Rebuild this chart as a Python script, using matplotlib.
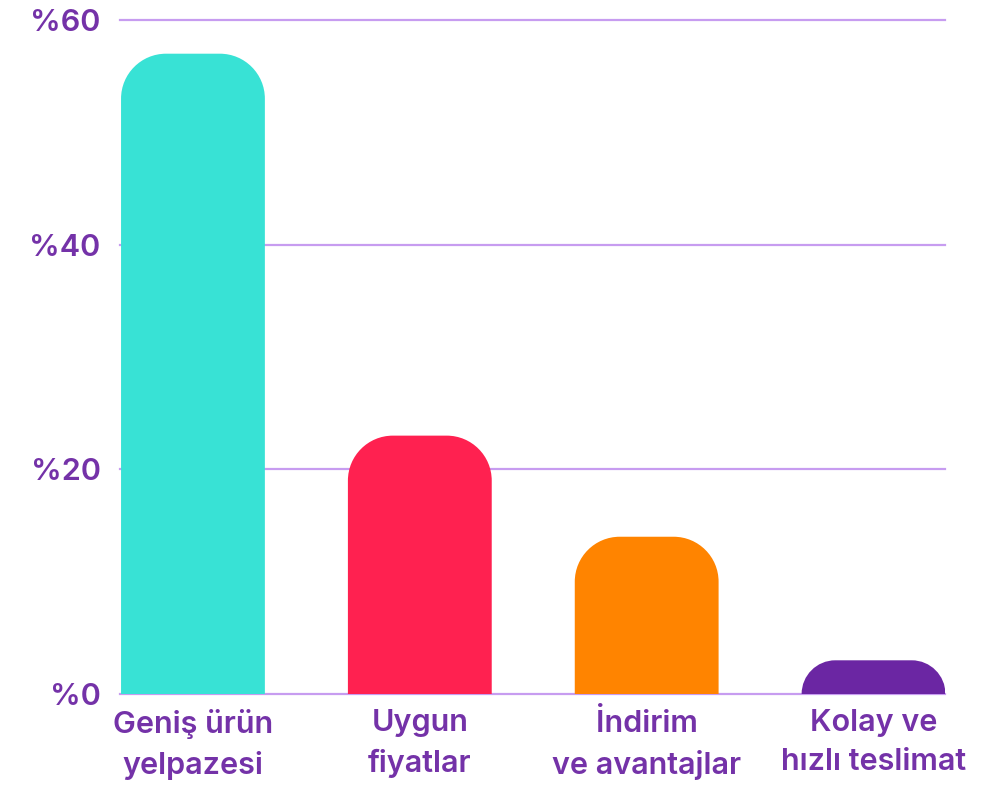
import matplotlib
matplotlib.use("Agg")
import matplotlib.pyplot as plt
from matplotlib.path import Path
from matplotlib.patches import PathPatch
import numpy as np

categories = ["Geniş ürün\nyelpazesi", "Uygun\nfiyatlar", "İndirim\nve avantajlar", "Kolay ve\nhızlı teslimat"]
values = [57, 23, 14, 3]
colors = ["#38E2D5", "#FF2150", "#FF8400", "#6B26A3"]
yticks = [0, 20, 40, 60]
ytick_labels = ["%0", "%20", "%40", "%60"]

text_color = "#7432A8"
grid_color = "#C79CF0"
plt.rcParams['font.family'] = ['Inter', 'DejaVu Sans']

W, H = 1001, 793
fig = plt.figure(figsize=(W / 100, H / 100), dpi=100)
left, right = 120 / W, 945 / W
bottom, top = (H - 694) / H, (H - 20) / H
ax = fig.add_axes([left, bottom, right - left, top - bottom])

xlim = (-0.3216, 3.315)
ylim = (0, 60)
ax.set_xlim(*xlim)
ax.set_ylim(*ylim)

x = np.arange(len(values))
width = 0.634

# pixel-to-data conversions
ax_w_px = (right - left) * W
ax_h_px = (top - bottom) * H
px_x = (xlim[1] - xlim[0]) / ax_w_px
px_y = (ylim[1] - ylim[0]) / ax_h_px

bars = ax.bar(x, values, width=width, color=colors, zorder=2)
for b, c in zip(bars, colors):
    b.set_visible(False)
    x0, w = b.get_x(), b.get_width()
    h = b.get_height()
    h_px = h / px_y
    r_px = min(45, h_px)
    rx = r_px * px_x
    ry = r_px * px_y
    k = 0.5523
    verts = [
        (x0, 0), (x0, h - ry),
        (x0, h - ry + k * ry), (x0 + rx - k * rx, h), (x0 + rx, h),
        (x0 + w - rx, h),
        (x0 + w - rx + k * rx, h), (x0 + w, h - ry + k * ry), (x0 + w, h - ry),
        (x0 + w, 0), (x0, 0),
    ]
    codes = [Path.MOVETO, Path.LINETO,
             Path.CURVE4, Path.CURVE4, Path.CURVE4,
             Path.LINETO,
             Path.CURVE4, Path.CURVE4, Path.CURVE4,
             Path.LINETO, Path.CLOSEPOLY]
    ax.add_patch(PathPatch(Path(verts, codes), facecolor=c, edgecolor='none', zorder=2))

for yt in yticks:
    ax.axhline(yt, color=grid_color, lw=1.6, zorder=1, clip_on=False)

for s in ax.spines.values():
    s.set_visible(False)

ax.set_yticks(yticks)
ax.set_yticklabels(ytick_labels)
ax.set_xticks(x)
ax.set_xticklabels(categories, linespacing=1.5)
ax.tick_params(axis='y', length=0, pad=14, labelsize=22, labelcolor=text_color)
ax.tick_params(axis='x', length=0, pad=11, labelsize=22, labelcolor=text_color)
for lab in ax.get_yticklabels() + ax.get_xticklabels():
    lab.set_fontweight('semibold')

fig.savefig("out.png", dpi=100, facecolor="white")
